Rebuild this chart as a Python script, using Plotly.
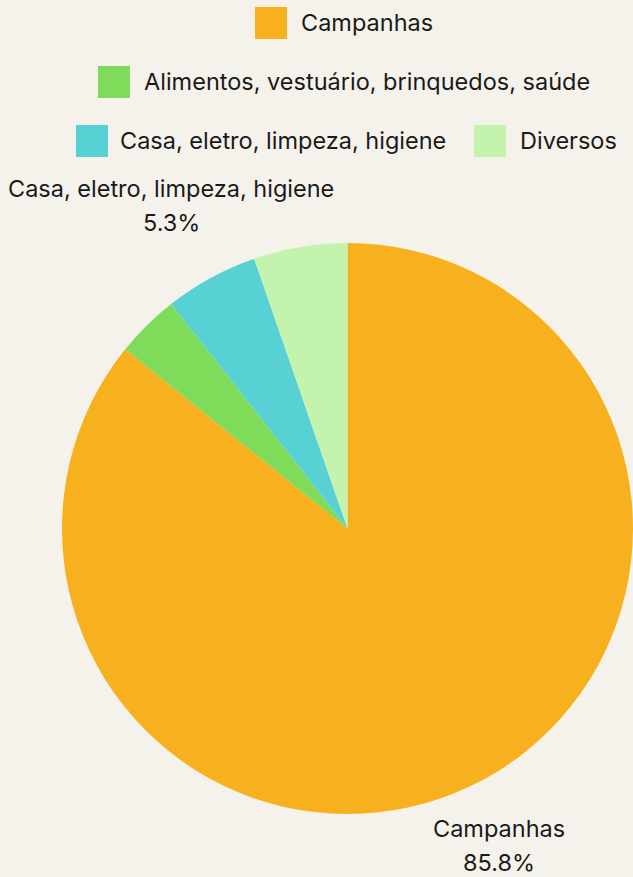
import math
import plotly.graph_objects as go

categories = ["Campanhas", "Alimentos, vestuário, brinquedos, saúde",
              "Casa, eletro, limpeza, higiene", "Diversos"]
values = [85.8, 3.6, 5.3, 5.3]
colors = ["#F7B01E", "#7FDB5A", "#58D1D5", "#C3F3AC"]
show_label = [True, False, True, False]
label_dist = [1.23, 1.0, 1.29, 1.0]   # radial distance of outside labels (x radius)

W, H = 633, 877
BG = "#F5F2EB"
FONT = "Inter"
TXT = "#1A1A1A"
FS = 23.5

# pie geometry (pixels)
PIE_L, PIE_R, PIE_T, PIE_B = 62, 633, 243, 814
CX, CY = (PIE_L + PIE_R) / 2, (PIE_T + PIE_B) / 2
RAD = (PIE_R - PIE_L) / 2
LINE_GAP = 17


def px(x):
    return x / W


def py(y):
    return 1 - y / H


fig = go.Figure(go.Pie(
    labels=categories,
    values=values,
    sort=False,
    direction="clockwise",
    rotation=0,
    marker=dict(colors=colors, line=dict(width=0)),
    textinfo="none",
    showlegend=False,
    hoverinfo="label+percent",
    domain=dict(x=[px(PIE_L), px(PIE_R)], y=[py(PIE_B), py(PIE_T)]),
))

annotations = []
shapes = []

# outside slice labels, positioned at each slice's mid angle
total = sum(values)
cum = 0.0
for name, v, show, dist in zip(categories, values, show_label, label_dist):
    mid = (cum + v / 2) / total * 2 * math.pi
    cum += v
    if not show:
        continue
    lx = CX + math.sin(mid) * RAD * dist
    ly = CY - math.cos(mid) * RAD * dist
    pct = f"{v / total * 100:.1f}%"
    for txt, yy in ((name, ly - LINE_GAP), (pct, ly + LINE_GAP)):
        annotations.append(dict(xref="paper", yref="paper", x=px(lx), y=py(yy),
                                xanchor="center", yanchor="middle", showarrow=False,
                                text=txt, font=dict(family=FONT, size=FS, color=TXT)))

# Custom centered legend rows (category index, swatch left, text left, row center y)
legend_items = [
    (0, 255, 299, 23),
    (1, 98, 142, 82),
    (2, 76, 118, 141),
    (3, 474, 518, 141),
]
for idx, sx, tx, cy in legend_items:
    shapes.append(dict(type="rect", xref="paper", yref="paper",
                       x0=px(sx), x1=px(sx + 32), y0=py(cy + 16), y1=py(cy - 16),
                       fillcolor=colors[idx], line=dict(width=0)))
    annotations.append(dict(xref="paper", yref="paper", x=px(tx), y=py(cy),
                            xanchor="left", yanchor="middle", showarrow=False,
                            text=categories[idx],
                            font=dict(family=FONT, size=FS, color=TXT)))

fig.update_layout(
    width=W, height=H,
    margin=dict(l=0, r=0, t=0, b=0, pad=0, autoexpand=False),
    paper_bgcolor=BG, plot_bgcolor=BG,
    font=dict(family=FONT, color=TXT),
    shapes=shapes,
    annotations=annotations,
)

fig.write_html("out.html",
               config={"displayModeBar": False},
               post_script="document.body.style.margin='0';document.body.style.overflow='hidden';")
